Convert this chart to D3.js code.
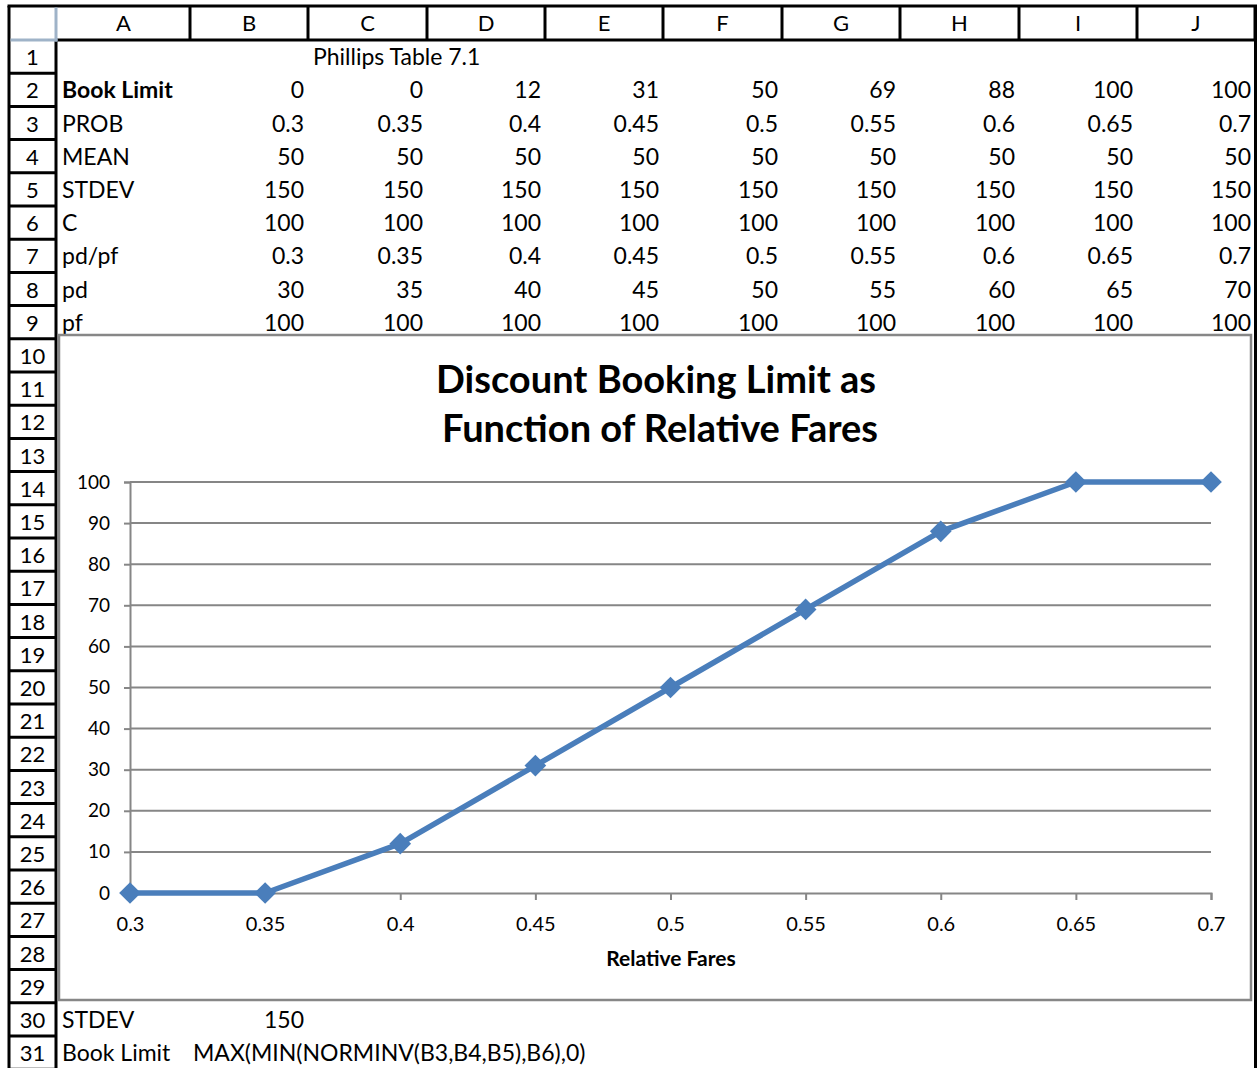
<!DOCTYPE html>
<html>
<head>
<meta charset="utf-8">
<script src="https://cdn.jsdelivr.net/npm/d3@7"></script>
<style>
  html, body { margin: 0; padding: 0; background: #fff; }
  svg { display: block; font-family: Lato, "Open Sans", sans-serif; }
</style>
</head>
<body>
<svg id="sheet" width="1257" height="1068"></svg>
<script>
// ---------- data ----------
const columnLetters = ["A", "B", "C", "D", "E", "F", "G", "H", "I", "J"];
const sheetTitle = "Phillips Table 7.1";
const rowNames = ["Book Limit", "PROB", "MEAN", "STDEV", "C", "pd/pf", "pd", "pf"];
const bookLimit = [0, 0, 12, 31, 50, 69, 88, 100, 100];
const prob = [0.3, 0.35, 0.4, 0.45, 0.5, 0.55, 0.6, 0.65, 0.7];
const mean = [50, 50, 50, 50, 50, 50, 50, 50, 50];
const stdev = [150, 150, 150, 150, 150, 150, 150, 150, 150];
const capacity = [100, 100, 100, 100, 100, 100, 100, 100, 100];
const pdpf = [0.3, 0.35, 0.4, 0.45, 0.5, 0.55, 0.6, 0.65, 0.7];
const pd = [30, 35, 40, 45, 50, 55, 60, 65, 70];
const pf = [100, 100, 100, 100, 100, 100, 100, 100, 100];
const tableRows = [bookLimit, prob, mean, stdev, capacity, pdpf, pd, pf];
const footRows = [["STDEV", 150, null], ["Book Limit", null, "MAX(MIN(NORMINV(B3,B4,B5),B6),0)"]];
const chartTitle = ["Discount Booking Limit as", "Function of Relative Fares"];
const xAxisTitle = "Relative Fares";
const xTicks = [0.3, 0.35, 0.4, 0.45, 0.5, 0.55, 0.6, 0.65, 0.7];
const yTicks = [0, 10, 20, 30, 40, 50, 60, 70, 80, 90, 100];

// ---------- layout ----------
const svg = d3.select("#sheet");
const W = 1257, H = 1068;
const rowHdrL = 9, rowHdrR = 56;
const hdrTop = 6, hdrBottom = 40, rowH = 33.2;
const colEdges = [57, 190, 308, 427, 545, 663, 782, 900, 1019, 1137, 1255];
const nRows = 31;
const rowTop = r => hdrBottom + (r - 1) * rowH;
const cellFont = 23;
const hdrFont = 22;

svg.append("rect").attr("width", W).attr("height", H).attr("fill", "#fff");

// column headers
const gH = svg.append("g");
columnLetters.forEach((c, i) => {
  gH.append("text")
    .attr("x", (colEdges[i] + colEdges[i + 1]) / 2)
    .attr("y", hdrBottom - 9)
    .attr("text-anchor", "middle")
    .attr("font-size", hdrFont)
    .text(c);
});
gH.append("line").attr("x1", rowHdrL - 1.5).attr("x2", W).attr("y1", hdrTop).attr("y2", hdrTop)
  .attr("stroke", "#000").attr("stroke-width", 3);
gH.append("line").attr("x1", rowHdrR).attr("x2", W).attr("y1", hdrBottom).attr("y2", hdrBottom)
  .attr("stroke", "#000").attr("stroke-width", 3);
colEdges.slice(1).forEach(x => {
  gH.append("line").attr("x1", x).attr("x2", x).attr("y1", hdrTop).attr("y2", hdrBottom)
    .attr("stroke", "#000").attr("stroke-width", 3);
});
// right sheet edge
gH.append("line").attr("x1", 1255.5).attr("x2", 1255.5).attr("y1", hdrTop).attr("y2", H)
  .attr("stroke", "#000").attr("stroke-width", 3);

// row headers
const gR = svg.append("g");
gR.append("line").attr("x1", rowHdrL).attr("x2", rowHdrL).attr("y1", hdrTop).attr("y2", H)
  .attr("stroke", "#000").attr("stroke-width", 3);
gR.append("line").attr("x1", rowHdrR).attr("x2", rowHdrR).attr("y1", hdrBottom).attr("y2", H)
  .attr("stroke", "#000").attr("stroke-width", 3);
for (let r = 1; r <= nRows; r++) {
  gR.append("line").attr("x1", rowHdrL).attr("x2", rowHdrR)
    .attr("y1", rowTop(r) + rowH).attr("y2", rowTop(r) + rowH)
    .attr("stroke", "#000").attr("stroke-width", 3);
  gR.append("text")
    .attr("x", (rowHdrL + rowHdrR) / 2)
    .attr("y", rowTop(r) + rowH - 8)
    .attr("text-anchor", "middle")
    .attr("font-size", hdrFont)
    .text(r);
}
// select-all corner
gR.append("line").attr("x1", rowHdrR).attr("x2", rowHdrR).attr("y1", hdrTop + 1.5).attr("y2", hdrBottom + 1.5)
  .attr("stroke", "#9fb3c8").attr("stroke-width", 3);
gR.append("line").attr("x1", rowHdrL + 1.5).attr("x2", rowHdrR + 1.5).attr("y1", hdrBottom).attr("y2", hdrBottom)
  .attr("stroke", "#9fb3c8").attr("stroke-width", 3);

// cells
const gC = svg.append("g").attr("font-size", cellFont).attr("fill", "#000");
const base = r => rowTop(r) + rowH - 8;
gC.append("text").attr("x", colEdges[2] + 5).attr("y", base(1)).text(sheetTitle);
rowNames.forEach((name, i) => {
  const r = i + 2;
  gC.append("text").attr("x", colEdges[0] + 5).attr("y", base(r))
    .attr("font-weight", i === 0 ? "bold" : "normal").text(name);
  tableRows[i].forEach((v, j) => {
    gC.append("text").attr("x", colEdges[j + 2] - 4).attr("y", base(r))
      .attr("text-anchor", "end").text(v);
  });
});
footRows.forEach((fr, i) => {
  const r = 30 + i;
  gC.append("text").attr("x", colEdges[0] + 5).attr("y", base(r)).text(fr[0]);
  if (fr[1] !== null) gC.append("text").attr("x", colEdges[2] - 4).attr("y", base(r)).attr("text-anchor", "end").text(fr[1]);
  if (fr[2] !== null) gC.append("text").attr("x", colEdges[1] + 3).attr("y", base(r)).text(fr[2]);
});

// ---------- chart ----------
const chart = { x0: 59, y0: 335, x1: 1251, y1: 1000 };
const gChart = svg.append("g");
gChart.append("rect")
  .attr("x", chart.x0).attr("y", chart.y0)
  .attr("width", chart.x1 - chart.x0).attr("height", chart.y1 - chart.y0)
  .attr("fill", "#fff").attr("stroke", "#878787").attr("stroke-width", 2.5);

const plot = { l: 130, r: 1211, t: 482, b: 893 };
const x = d3.scaleLinear().domain([0.3, 0.7]).range([plot.l, plot.r]);
const y = d3.scaleLinear().domain([0, 100]).range([plot.b, plot.t]);
const gridColor = "#868686";

// gridlines
gChart.append("g").selectAll("line").data(yTicks.filter(d => d > 0)).join("line")
  .attr("x1", plot.l).attr("x2", plot.r)
  .attr("y1", d => y(d)).attr("y2", d => y(d))
  .attr("stroke", gridColor).attr("stroke-width", 2);

// y axis
const yAxis = d3.axisLeft(y).tickValues(yTicks).tickSize(6).tickPadding(14).tickFormat(d3.format("d"));
const gy = gChart.append("g").attr("transform", `translate(${plot.l},0)`).call(yAxis);
gy.select(".domain").attr("stroke", gridColor).attr("stroke-width", 2);
gy.selectAll(".tick line").attr("stroke", gridColor).attr("stroke-width", 2);
gy.selectAll(".tick text").attr("font-size", 19).attr("font-family", "Lato").attr("fill", "#000");

// x axis
const xAxis = d3.axisBottom(x).tickValues(xTicks).tickSize(7).tickPadding(17).tickFormat(d => String(d));
const gx = gChart.append("g").attr("transform", `translate(0,${plot.b})`).call(xAxis);
gx.select(".domain").attr("stroke", gridColor).attr("stroke-width", 2);
gx.selectAll(".tick line").attr("stroke", gridColor).attr("stroke-width", 2);
gx.selectAll(".tick text").attr("font-size", 20).attr("font-family", "Lato").attr("fill", "#000");

// series
const series = pdpf.map((p, i) => ({ x: p, y: bookLimit[i] }));
const lineColor = "#4a7ebb";
gChart.append("path").datum(series)
  .attr("d", d3.line().x(d => x(d.x)).y(d => y(d.y)))
  .attr("fill", "none").attr("stroke", lineColor).attr("stroke-width", 5.5)
  .attr("stroke-linejoin", "round");
gChart.append("g").selectAll("path").data(series).join("path")
  .attr("d", d3.symbol().type(d3.symbolDiamond2).size(300))
  .attr("transform", d => `translate(${x(d.x)},${y(d.y)})`)
  .attr("fill", lineColor);

// titles
const gT = gChart.append("g").attr("font-weight", "bold").attr("text-anchor", "middle").attr("fill", "#000");
gT.append("text").attr("x", 656).attr("y", 393).attr("font-size", 38).text(chartTitle[0]);
gT.append("text").attr("x", 660).attr("y", 442).attr("font-size", 38).text(chartTitle[1]);
gT.append("text").attr("x", 671).attr("y", 966).attr("font-size", 21).text(xAxisTitle);
</script>
</body>
</html>
